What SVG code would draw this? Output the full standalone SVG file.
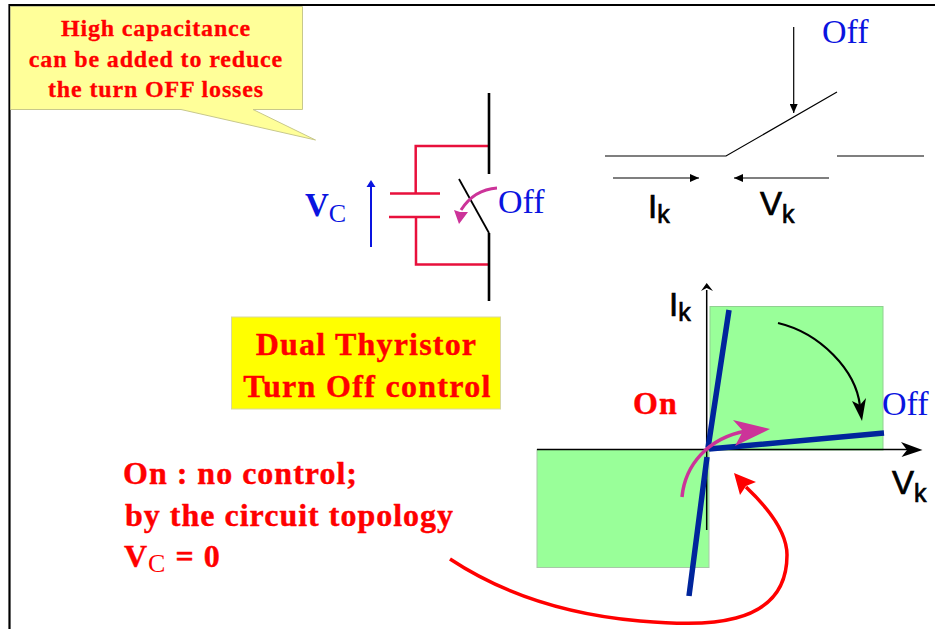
<svg xmlns="http://www.w3.org/2000/svg" width="935" height="629" viewBox="0 0 935 629">
<style>
text{font-family:"Liberation Serif","Times New Roman",serif}
.rb{fill:#ff0000;stroke:#ff0000;stroke-width:.4px;font-weight:bold;letter-spacing:1px}
.rs{fill:#ff0000;stroke:#ff0000;stroke-width:.3px;font-weight:bold;font-size:24px;letter-spacing:.85px}
.off{fill:#0a14e0;font-size:34px}
.sub{font-weight:normal;font-size:26px;stroke-width:0}
.sans{font-family:"Liberation Sans",Arial,sans-serif;fill:#000;stroke:#000;stroke-width:.7px;font-size:33px}
.sans tspan{font-size:25px}
.blk{fill:none;stroke:#000;stroke-width:1.200}
.wire{fill:none;stroke:#000;stroke-width:2.600}
.red{fill:none;stroke:#e8103c;stroke-width:2.500}
.bl{fill:none;stroke:#00259c;stroke-width:5.500}
</style>
<defs>
<marker id="ah" markerUnits="userSpaceOnUse" markerWidth="10" markerHeight="8" refX="9" refY="4" orient="auto"><path d="M0 0L9 4L0 8z" fill="#000"/></marker>
</defs>
<rect width="935" height="629" fill="#fff"/>
<g id="frame"><path d="M9.500 629V5H935" fill="none" stroke="#000" stroke-width="2.200"/></g>
<g id="callout">
<path d="M10.500 6.500H302.500V109.500H253L315.500 140L181 109.500H10.500z" fill="#ffff99" stroke="#c8c88c" stroke-width="1"/>
<text class="rs" text-anchor="middle" x="156" y="36">High capacitance</text>
<text class="rs" text-anchor="middle" x="156" y="67">can be added to reduce</text>
<text class="rs" text-anchor="middle" x="156" y="97">the turn OFF losses</text>
</g>
<g id="title">
<rect x="231.500" y="317" width="269" height="92" fill="#ffff00" stroke="#d8d8a0"/>
<text class="rb" style="letter-spacing:1.200px" font-size="32" text-anchor="middle" x="366.500" y="355">Dual Thyristor</text>
<text class="rb" style="letter-spacing:1.300px" font-size="32" text-anchor="middle" x="367.500" y="397">Turn Off control</text>
</g>
<g id="note">
<text class="rb" font-size="32" x="123" y="484">On : no control;</text>
<text class="rb" font-size="32" x="125" y="526">by the circuit topology</text>
<text class="rb" font-size="32" x="124" y="567">V<tspan class="sub" dy="5">C</tspan><tspan dy="-5"> = 0</tspan></text>
</g>
<g id="circuit">
<path class="red" d="M489 146H415.700V193.500M390 193.500H440M389 217H440M416 217V264.500H489"/>
<path class="wire" d="M489 93V174M489 233V301"/>
<path d="M459 179L489 233" fill="none" stroke="#000" stroke-width="1.800"/>
<path d="M371 247V186" fill="none" stroke="#0a14e0" stroke-width="2"/>
<path d="M366.500 187L371 180L375.500 187z" fill="#0a14e0"/>
<path d="M497 188C482 189 470 196 461 210" fill="none" stroke="#cc3399" stroke-width="3"/>
<path d="M454 210L459 224L468 212L460 212z" fill="#cc3399"/>
<text x="305" y="216" font-size="33" font-weight="bold" fill="#0a14e0">V<tspan class="sub" dy="6">C</tspan></text>
<text class="off" x="498" y="213">Off</text>
</g>
<g id="switch">
<path d="M605 156H726L837 92M837 156H924" fill="none" stroke="#000" stroke-width="1.200"/>
<path class="blk" d="M793.700 27V113" marker-end="url(#ah)"/>
<path class="blk" d="M613 178H699" marker-end="url(#ah)"/>
<path class="blk" d="M829 178H734" marker-end="url(#ah)"/>
<text class="off" x="822" y="43">Off</text>
<text class="sans" x="648" y="218">I<tspan dy="5">k</tspan></text>
<text class="sans" x="760" y="215">V<tspan dy="8">k</tspan></text>
</g>
<g id="chart">
<rect x="710" y="306.500" width="173" height="143.500" fill="#99ff99" stroke="#90d090"/>
<rect x="537" y="449.500" width="172" height="118" fill="#99ff99" stroke="#a8c8a8"/>
<path d="M537 449.500H915M706.700 530V290" fill="none" stroke="#000" stroke-width="1.500"/>
<path d="M701 291L706.700 283L713 291L706.700 288z" fill="#000"/>
<path d="M901 442L922.500 450L901.500 457L907 450z" fill="#000"/>
<path class="bl" d="M729 310L708 448M709 449L884 433M707 457L689 596"/>
<path d="M778 323C820 333 856 370 860 406" fill="none" stroke="#000" stroke-width="2.200"/>
<path d="M852 401L862 421L866 398L860 405z" fill="#000"/>
<path d="M682 497C685 465 708 438 746 431" fill="none" stroke="#cc3399" stroke-width="3.500"/>
<path d="M733 420L770 429L735 446L743 431z" fill="#cc3399"/>
<text class="rb" font-size="32" x="633" y="414">On</text>
<text class="off" x="882" y="415">Off</text>
<text class="sans" x="669" y="316">I<tspan dy="5">k</tspan></text>
<text class="sans" x="892" y="494">V<tspan dy="8">k</tspan></text>
</g>
<g id="connectors">
<path d="M450 559C500 592 560 614 640 621C700 626 787 630 787 555C787 530 765 505 746 487" fill="none" stroke="#ff0000" stroke-width="3.500"/>
<path d="M734 473L740 495L746 486L756 482z" fill="#ff0000"/>
</g>
</svg>
